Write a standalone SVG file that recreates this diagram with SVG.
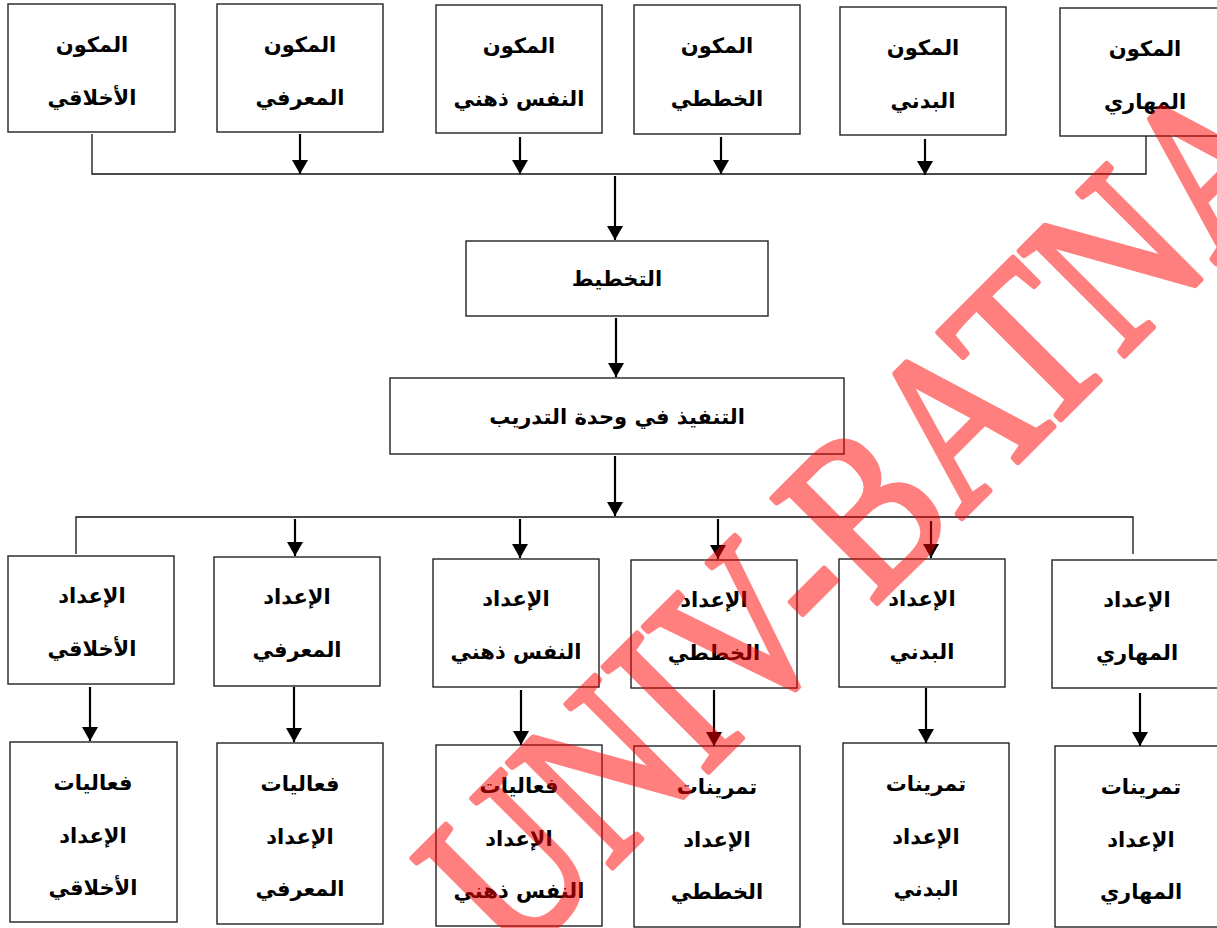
<svg xmlns="http://www.w3.org/2000/svg" width="1217" height="928" viewBox="0 0 1217 928">
<style>
.box{fill:#fff;stroke:#222;stroke-width:1.4}
.t{font-family:"DejaVu Sans",sans-serif;font-weight:bold;font-size:21px;fill:#000;text-anchor:middle}
.ln{fill:none;stroke:#111;stroke-width:1.3}
.ar{fill:none;stroke:#000;stroke-width:2.2}
.wm{font-family:"Liberation Serif",serif;font-size:226px;fill:#ff0000;stroke:#ff0000;stroke-width:6;stroke-linejoin:round}
</style>
<defs>
<marker id="ah" markerUnits="userSpaceOnUse" markerWidth="18" markerHeight="16" refX="14" refY="8" orient="auto" viewBox="0 0 14 16">
<path d="M0,0 L14,8 L0,16 Z" fill="#000"/>
</marker>
</defs>
<rect width="1217" height="928" fill="#fff"/>

<g id="top-akhlaqi"><rect class="box" x="8" y="4" width="167" height="128"/><text class="t" x="92" y="52">المكون</text><text class="t" x="92" y="105">الأخلاقي</text></g>
<g id="top-maarifi"><rect class="box" x="217" y="4" width="166" height="128"/><text class="t" x="300" y="52">المكون</text><text class="t" x="300" y="105">المعرفي</text></g>
<g id="top-nafs"><rect class="box" x="436" y="5" width="166" height="128"/><text class="t" x="519" y="53">المكون</text><text class="t" x="519" y="106">النفس ذهني</text></g>
<g id="top-khatati"><rect class="box" x="634" y="5" width="166" height="129"/><text class="t" x="717" y="53">المكون</text><text class="t" x="717" y="106">الخططي</text></g>
<g id="top-badani"><rect class="box" x="840" y="7" width="166" height="128"/><text class="t" x="923" y="55">المكون</text><text class="t" x="923" y="108">البدني</text></g>
<g id="top-mahari"><rect class="box" x="1060" y="8" width="170" height="128"/><text class="t" x="1145" y="56">المكون</text><text class="t" x="1145" y="109">المهاري</text></g>

<g id="takhtit"><rect class="box" x="466" y="241" width="302" height="75"/><text class="t" x="617" y="286">التخطيط</text></g>
<g id="tanfidh"><rect class="box" x="390" y="378" width="454" height="76"/><text class="t" x="617" y="424">التنفيذ في وحدة التدريب</text></g>

<g id="mid-akhlaqi"><rect class="box" x="8" y="556" width="166" height="128"/><text class="t" x="92" y="603">الإعداد</text><text class="t" x="92" y="656">الأخلاقي</text></g>
<g id="mid-maarifi"><rect class="box" x="214" y="557" width="166" height="129"/><text class="t" x="297" y="604">الإعداد</text><text class="t" x="297" y="657">المعرفي</text></g>
<g id="mid-nafs"><rect class="box" x="433" y="559" width="166" height="128"/><text class="t" x="516" y="606">الإعداد</text><text class="t" x="516" y="659">النفس ذهني</text></g>
<g id="mid-khatati"><rect class="box" x="631" y="560" width="166" height="128"/><text class="t" x="714" y="607">الإعداد</text><text class="t" x="714" y="660">الخططي</text></g>
<g id="mid-badani"><rect class="box" x="839" y="559" width="166" height="128"/><text class="t" x="922" y="606">الإعداد</text><text class="t" x="922" y="659">البدني</text></g>
<g id="mid-mahari"><rect class="box" x="1052" y="560" width="175" height="128"/><text class="t" x="1137" y="607">الإعداد</text><text class="t" x="1137" y="660">المهاري</text></g>

<g id="bot-akhlaqi"><rect class="box" x="10" y="742" width="167" height="180"/><text class="t" x="93" y="790">فعاليات</text><text class="t" x="93" y="843">الإعداد</text><text class="t" x="93" y="895">الأخلاقي</text></g>
<g id="bot-maarifi"><rect class="box" x="217" y="743" width="166" height="181"/><text class="t" x="300" y="791">فعاليات</text><text class="t" x="300" y="844">الإعداد</text><text class="t" x="300" y="896">المعرفي</text></g>
<g id="bot-nafs"><rect class="box" x="436" y="745" width="166" height="181"/><text class="t" x="519" y="793">فعاليات</text><text class="t" x="519" y="846">الإعداد</text><text class="t" x="519" y="898">النفس ذهني</text></g>
<g id="bot-khatati"><rect class="box" x="634" y="746" width="166" height="181"/><text class="t" x="717" y="794">تمرينات</text><text class="t" x="717" y="847">الإعداد</text><text class="t" x="717" y="899">الخططي</text></g>
<g id="bot-badani"><rect class="box" x="843" y="743" width="166" height="181"/><text class="t" x="926" y="791">تمرينات</text><text class="t" x="926" y="844">الإعداد</text><text class="t" x="926" y="896">البدني</text></g>
<g id="bot-mahari"><rect class="box" x="1055" y="746" width="175" height="181"/><text class="t" x="1141" y="794">تمرينات</text><text class="t" x="1141" y="847">الإعداد</text><text class="t" x="1141" y="899">المهاري</text></g>

<g id="connectors">
<polyline class="ln" points="92,134 92,174 1146,174 1146,136"/>
<line class="ar" x1="300" y1="134" x2="300" y2="174" marker-end="url(#ah)"/>
<line class="ar" x1="520" y1="137" x2="520" y2="174" marker-end="url(#ah)"/>
<line class="ar" x1="721" y1="137" x2="721" y2="174" marker-end="url(#ah)"/>
<line class="ar" x1="925" y1="139" x2="925" y2="175" marker-end="url(#ah)"/>
<line class="ar" x1="615" y1="176" x2="615" y2="240" marker-end="url(#ah)"/>
<line class="ar" x1="616" y1="318" x2="616" y2="377" marker-end="url(#ah)"/>
<line class="ar" x1="615" y1="456" x2="615" y2="516" marker-end="url(#ah)"/>
<polyline class="ln" points="76,554 76,517 1133,517 1133,554"/>
<line class="ar" x1="295" y1="519" x2="295" y2="556" marker-end="url(#ah)"/>
<line class="ar" x1="520" y1="519" x2="520" y2="558" marker-end="url(#ah)"/>
<line class="ar" x1="718" y1="519" x2="718" y2="559" marker-end="url(#ah)"/>
<line class="ar" x1="931" y1="521" x2="931" y2="558" marker-end="url(#ah)"/>
<line class="ar" x1="90" y1="687" x2="90" y2="741" marker-end="url(#ah)"/>
<line class="ar" x1="294" y1="687" x2="294" y2="742" marker-end="url(#ah)"/>
<line class="ar" x1="521" y1="690" x2="521" y2="745" marker-end="url(#ah)"/>
<line class="ar" x1="714" y1="690" x2="714" y2="746" marker-end="url(#ah)"/>
<line class="ar" x1="926" y1="688" x2="926" y2="743" marker-end="url(#ah)"/>
<line class="ar" x1="1140" y1="693" x2="1140" y2="746" marker-end="url(#ah)"/>
</g>

<g id="watermark" opacity="0.5">
<text class="wm" transform="translate(514,966) rotate(-45)" x="0" y="0" textLength="1125" lengthAdjust="spacingAndGlyphs">UNIV-BATNA</text>
</g>
</svg>
